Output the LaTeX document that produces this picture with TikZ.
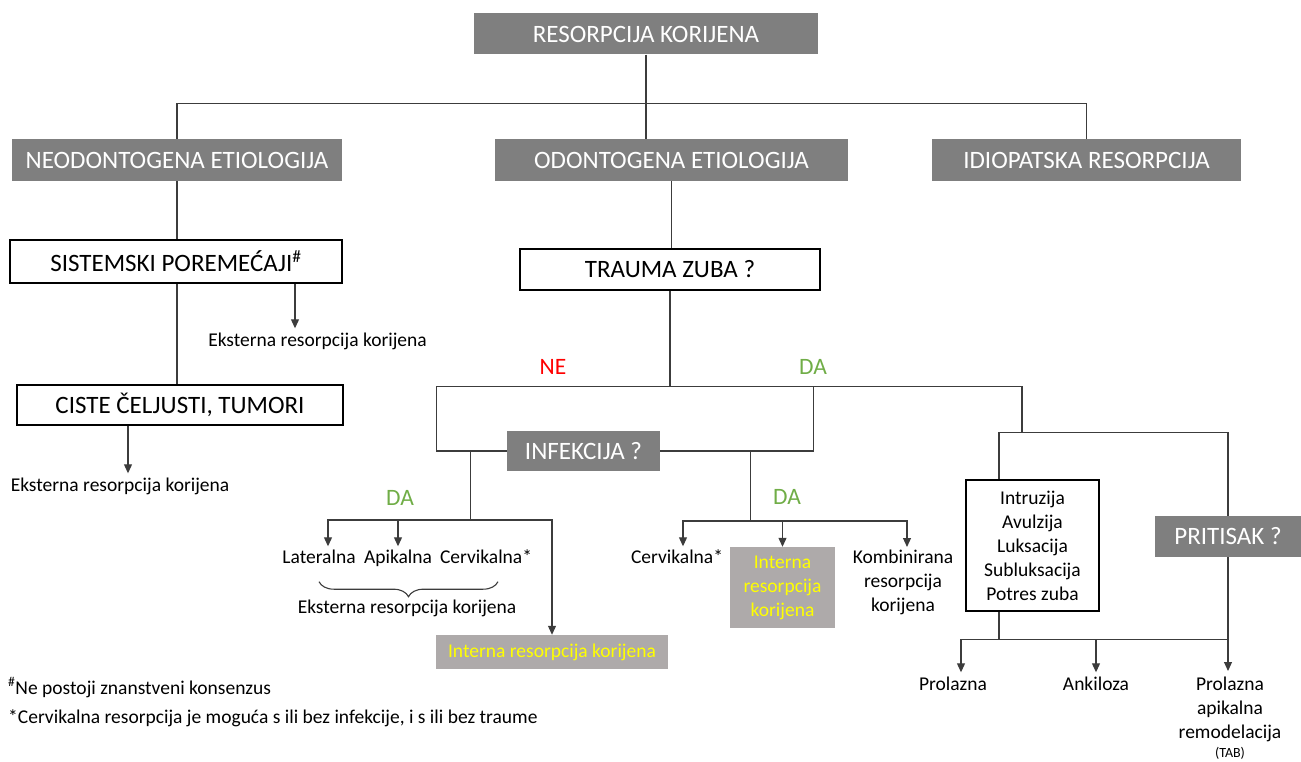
\documentclass[tikz,border=0pt]{standalone}
\usepackage{fontspec}
\setmainfont{Carlito}
\usetikzlibrary{arrows.meta, decorations.pathreplacing}
\definecolor{boxgray}{RGB}{127,127,127}
\definecolor{internfill}{RGB}{174,170,170}
\definecolor{dagreen}{RGB}{112,173,71}
\definecolor{nered}{RGB}{255,0,0}
\definecolor{linkgray}{RGB}{60,60,60}
\definecolor{internyellow}{RGB}{255,255,0}

\begin{document}
\begin{tikzpicture}[x=1pt, y=-1pt,
    darkbox/.style={fill=boxgray, text=white, inner sep=0pt, font=\fontsize{25}{30}\selectfont},
    whitebox/.style={draw=black, line width=1.6pt, fill=white, inner sep=0pt, font=\fontsize{25}{30}\selectfont},
    internbox/.style={fill=internfill, text=internyellow, inner sep=0pt, align=center, font=\fontsize{19.5}{24}\selectfont},
    txt/.style={inner sep=0pt, text height=13pt, text depth=4pt, font=\fontsize{19.5}{24}\selectfont},
    mltxt/.style={inner sep=0pt, align=center, anchor=north, font=\fontsize{19.5}{24}\selectfont},
    answer/.style={inner sep=0pt, font=\fontsize{23.5}{28}\selectfont},
    link/.style={draw=linkgray, line width=1.1pt},
    arr/.style={link, -{Triangle[width=8pt,length=9pt]}}]
    \useasboundingbox (0,0) rectangle (1301,762);

    % Top level
    \node[darkbox, minimum width=344pt, minimum height=41pt] (root) at (646,34) {RESORPCIJA KORIJENA};
    \node[darkbox, minimum width=330pt, minimum height=42pt] (neo) at (177,160) {NEODONTOGENA ETIOLOGIJA};
    \node[darkbox, minimum width=353pt, minimum height=42pt] (odo) at (671.5,160) {ODONTOGENA ETIOLOGIJA};
    \node[darkbox, minimum width=309pt, minimum height=42pt] (idio) at (1086.5,160) {IDIOPATSKA RESORPCIJA};
    \draw[link] (root.south) -- (root.south |- odo.north);
    \draw[link] (neo.north) -- ++(0,-35) -| (idio.north);

    % Neodontogena branch
    \node[whitebox, minimum width=332pt, minimum height=43pt] (sist) at (176,261.5) {SISTEMSKI POREMEĆAJI\textsuperscript{\#}};
    \node[whitebox, minimum width=326pt, minimum height=40pt] (ciste) at (180,405) {CISTE ČELJUSTI, TUMORI};
    \node[txt] (ekst1) at (317.5,342) {Eksterna resorpcija korijena};
    \node[txt] (ekst2) at (120,487) {Eksterna resorpcija korijena};
    \draw[link] (neo.south) -- (neo.south |- sist.north);
    \draw[link] (sist.south -| neo.south) -- (ciste.north -| neo.south);
    \draw[arr, shorten >=5pt] ([xshift=119pt]sist.south) coordinate (s1) -- (s1 |- ekst1.north);
    \draw[arr, shorten >=5pt] ([xshift=-52pt]ciste.south) coordinate (c1) -- (c1 |- ekst2.north);

    % Odontogena branch
    \node[whitebox, minimum width=300pt, minimum height=41pt] (trauma) at (670,269.5) {TRAUMA ZUBA ?};
    \node[answer, text=nered] (ne) at (553,367) {NE};
    \node[answer, text=dagreen] (da1) at (813,367) {DA};
    \node[darkbox, minimum width=153pt, minimum height=40pt] (infek) at (583.5,451) {INFEKCIJA ?};
    \draw[link] (odo.south) -- (odo.south |- trauma.north);
    \draw[link] (trauma.south) -- ++(0,96) coordinate (tj);
    \draw[link] (infek.west) -- ++(-70,0) |- (tj);
    \draw[link] (infek.east) -- ++(153,0) |- (tj);
    \draw[link] (tj) -| ++(352,46) coordinate (rj);

    % Infekcija, left side
    \node[answer, text=dagreen] (da2) at (400,498) {DA};
    \node[txt] (lat) at (319,559) {Lateralna};
    \node[txt] (api) at (398,559) {Apikalna};
    \node[txt] (cerv1) at (486,559) {Cervikalna*};
    \node[txt] (ekst3) at (407,609) {Eksterna resorpcija korijena};
    \node[internbox, minimum width=232pt, minimum height=34pt] (intern1) at (552,652) {Interna resorpcija korijena};
    \draw[link] ([xshift=-36pt]infek.west) -- ++(0,69) coordinate (lj);
    \draw[arr, shorten >=4pt] (lj) -| ([xshift=9pt]lat.north);
    \draw[arr, shorten >=4pt] (lj) -| (api.north);
    \draw[arr] (lj) -| (intern1.north);
    \draw[link, decorate, decoration={brace, mirror, amplitude=15pt}]
        ([yshift=-14pt]lat.south) -- ([xshift=12pt, yshift=-14pt]cerv1.south);

    % Infekcija, right side
    \node[answer, text=dagreen] (da3) at (787,497) {DA};
    \node[txt] (cerv2) at (677,559) {Cervikalna*};
    \node[internbox, minimum width=105pt, minimum height=81pt] (intern2) at (782.5,587.5) {Interna\\resorpcija\\korijena};
    \node[mltxt] (komb) at (903,550) {Kombinirana\\resorpcija\\korijena};
    \draw[link] ([xshift=90pt]infek.east) -- ++(0,70) coordinate (mj);
    \draw[arr, shorten >=4pt] (mj) -| ([xshift=6pt]cerv2.north);
    \draw[arr] (mj) -| (intern2.north);
    \draw[arr, shorten >=3pt] (mj) -| ([xshift=4pt]komb.north);

    % Trauma types and pressure
    \node[draw=black, line width=1.2pt, inner sep=0pt, align=center, minimum width=133pt, minimum height=131pt,
        font=\fontsize{19.5}{24}\selectfont] (types) at (1032.5,545.5)
        {Intruzija\\Avulzija\\Luksacija\\Subluksacija\\Potres zuba};
    \node[darkbox, minimum width=146pt, minimum height=41pt] (prit) at (1228,536.5) {PRITISAK ?};
    \node[txt] (prol) at (953,686) {Prolazna};
    \node[txt] (ankil) at (1096,686) {Ankiloza};
    \node[mltxt] (prolap) at (1230,677) {Prolazna\\apikalna\\remodelacija};
    \node[inner sep=0pt, font=\fontsize{14}{16}\selectfont] (tab) at (1230,753) {(TAB)};
    \draw[link] ([xshift=-33.5pt]types.north) coordinate (t1) |- (rj) -| (prit.north);
    \draw[link] (types.south -| t1) -- ++(0,28) coordinate (bj);
    \draw[link] (bj) -- (bj -| prit.south);
    \draw[arr, shorten >=5pt] (bj) -| ([xshift=8pt]prol.north);
    \draw[arr, shorten >=5pt] (bj) -| (ankil.north);
    \draw[arr, shorten >=6pt] (prit.south) -- (prit.south |- prolap.north);

    % Footnotes
    \node[txt, anchor=west] (fn1) at (8,690) {\textsuperscript{\#}Ne postoji znanstveni konsenzus};
    \node[txt, anchor=west] (fn2) at (8,719) {*Cervikalna resorpcija je moguća s ili bez infekcije, i s ili bez traume};
\end{tikzpicture}
\end{document}
